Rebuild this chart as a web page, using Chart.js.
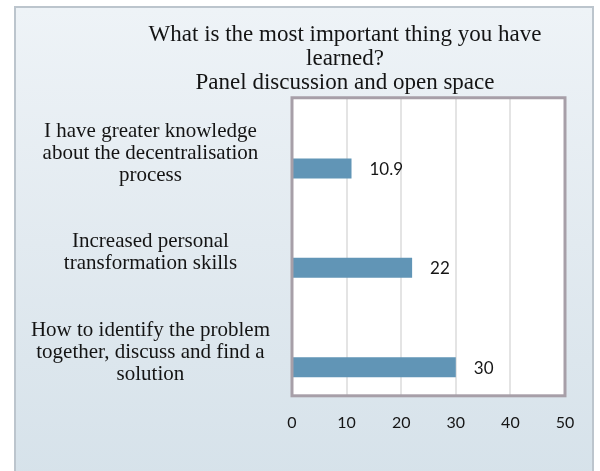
<!DOCTYPE html>
<html>
<head>
<meta charset="utf-8">
<script src="https://cdn.jsdelivr.net/npm/chart.js@4"></script>
<style>
  html, body { margin: 0; padding: 0; background: #fff; }
  #wrap { position: relative; width: 600px; height: 471px; overflow: hidden; }
  #panel {
    position: absolute; left: 14px; top: 6px; width: 576px; height: 470px;
    border: 2px solid #bcc5cd;
    background: linear-gradient(to bottom, #eef3f7 0%, #e2eaf0 50%, #d6e2ea 100%);
  }
  #chart { position: absolute; left: 0; top: 0; }
</style>
</head>
<body>
<div id="wrap">
  <div id="panel"></div>
  <canvas id="chart" width="600" height="471"></canvas>
</div>
<script>
const titleLines = ['What is the most important thing you have', 'learned?', 'Panel discussion and open space'];
const categories = [
	['I have greater knowledge', 'about the decentralisation', 'process'],
	['Increased personal', 'transformation skills'],
	['How to identify the problem', 'together, discuss and find a', 'solution']
];
const values = [10.9, 22, 30];
const xTicks = [0, 10, 20, 30, 40, 50];

const serif = "'Liberation Serif', 'DejaVu Serif', serif";
const sans = "Lato, 'Liberation Sans', sans-serif";

// white plot area and grey frame round it
const plotFrame = {
	id: 'plotFrame',
	beforeDraw(chart) {
		const { ctx, chartArea: a } = chart;
		ctx.save();
		ctx.fillStyle = '#ffffff';
		ctx.fillRect(a.left, a.top, a.right - a.left, a.bottom - a.top);
		ctx.restore();
	},
	afterDraw(chart) {
		const { ctx, chartArea: a } = chart;
		ctx.save();
		ctx.strokeStyle = '#a79fa8';
		ctx.lineWidth = 3;
		ctx.strokeRect(a.left, a.top, a.right - a.left, a.bottom - a.top);
		ctx.restore();
	}
};

// value next to each bar
const barValues = {
	id: 'barValues',
	afterDatasetsDraw(chart) {
		const { ctx } = chart;
		const meta = chart.getDatasetMeta(1);
		ctx.save();
		ctx.font = '17px ' + sans;
		ctx.fillStyle = '#161616';
		ctx.textAlign = 'left';
		ctx.textBaseline = 'middle';
		meta.data.forEach((bar, i) => {
			ctx.fillText(String(values[i]), bar.x + 18, bar.y + 1);
		});
		ctx.restore();
	}
};

// title sits a bit right of the canvas centre
const titleShift = {
	id: 'titleShift',
	afterLayout(chart) {
		const t = chart.titleBlock;
		if (t) t.left = 2 * 345 - t.right;
	}
};

const chart = new Chart(document.getElementById('chart'), {
	type: 'bar',
	data: {
		labels: categories,
		datasets: [
			{ label: 'spacer', data: [], backgroundColor: 'rgba(0,0,0,0)' },
			{ label: 'Panel discussion and open space', data: values, backgroundColor: '#6195b6', borderWidth: 0 }
		]
	},
	options: {
		indexAxis: 'y',
		responsive: false,
		animation: false,
		categoryPercentage: 0.846,
		barPercentage: 0.476,
		layout: { padding: { top: 0, left: 20, right: 35, bottom: 22 } },
		plugins: {
			legend: { display: false },
			tooltip: { enabled: false },
			title: {
				display: true,
				text: titleLines,
				color: '#141414',
				font: { family: serif, size: 23, weight: 'normal', lineHeight: 1.04 },
				padding: { top: 23, bottom: 3 }
			}
		},
		scales: {
			x: {
				min: 0,
				max: 50,
				afterBuildTicks(scale) { scale.ticks = xTicks.map(v => ({ value: v })); },
				grid: { color: '#e4e4e4', lineWidth: 2, drawTicks: false },
				border: { display: false },
				ticks: { padding: 17, color: '#161616', font: { family: sans, size: 16 } }
			},
			y: {
				grid: { display: false, drawTicks: false },
				border: { display: false },
				afterFit(scale) { scale.width = 272; },
				ticks: {
					crossAlign: 'center',
					padding: 22,
					labelOffset: 6,
					color: '#141414',
					font: { family: serif, size: 21, lineHeight: 1.05 }
				}
			}
		}
	},
	plugins: [plotFrame, barValues, titleShift]
});
</script>
</body>
</html>
